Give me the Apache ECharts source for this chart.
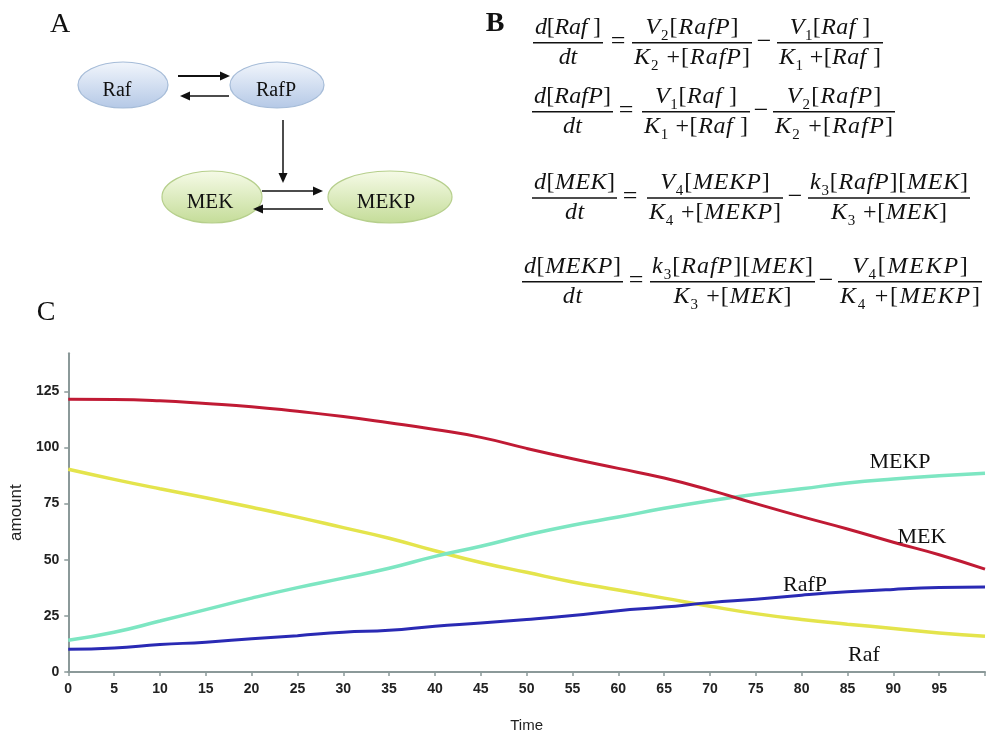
<!DOCTYPE html>
<html><head><meta charset="utf-8">
<script src="https://cdn.jsdelivr.net/npm/echarts@6/dist/echarts.min.js"></script>
<style>html,body{margin:0;padding:0;background:#fff}#c{width:986px;height:734px}</style>
</head><body><div id="c"></div>
<script>
// ---- data ----
const time = [0,5,10,15,20,25,30,35,40,45,50,55,60,65,70,75,80,85,90,95,100];
const mek  = [121.5,121.4,120.8,119.6,118.2,116.1,113.8,111,108,104.5,99.6,95,90.7,86.4,81,75,69.2,63.7,57.8,52.2,45.8];
const mekp = [14.1,17.7,22.7,27.8,32.9,37.6,41.8,46.2,51.5,56,61,65.4,69,72.9,76.3,79.2,81.6,84.2,86,87.4,88.5];
const raf  = [90.3,85.8,81.6,77.6,73.4,69,64.3,59.6,54,48.8,44.4,40.1,36.5,32.9,29.3,26,23.4,21.3,19.4,17.4,15.9];
const rafp = [10.1,10.7,12.2,13.3,14.8,16.2,17.7,18.6,20.4,21.8,23.4,25.2,27.3,28.9,30.9,32.4,34.2,35.7,36.8,37.6,37.9];
const yTicks = [0,25,50,75,100,125];
const xLabels = [0,5,10,15,20,25,30,35,40,45,50,55,60,65,70,75,80,85,90,95];
const seriesNames = ['Raf','MEKP','RafP','MEK'];
const nodeNames = ['Raf','RafP','MEK','MEKP'];
const equations = [
  ['d[Raf ]','dt','V_2[RafP]','K_2 +[RafP]','V_1[Raf ]','K_1 +[Raf ]'],
  ['d[RafP]','dt','V_1[Raf ]','K_1 +[Raf ]','V_2[RafP]','K_2 +[RafP]'],
  ['d[MEK]','dt','V_4[MEKP]','K_4 +[MEKP]','k_3[RafP][MEK]','K_3 +[MEK]'],
  ['d[MEKP]','dt','k_3[RafP][MEK]','K_3 +[MEK]','V_4[MEKP]','K_4 +[MEKP]']
];

const pairs = a => time.map((t,i)=>[t,a[i]]);
const SERIF = '"Liberation Serif","Times New Roman",serif';
const SANS = '"Liberation Sans",Arial,sans-serif';
const mctx = document.createElement('canvas').getContext('2d');
function tw(text,size,style){ mctx.font = style+' '+size+'px '+SERIF; return mctx.measureText(text).width; }

const graphics = [];
function txt(x,y,text,size,opts){
  opts = opts||{};
  graphics.push({type:'text',x:x,y:y,z:10,style:{text:text,fill:opts.fill||'#111',
    fontFamily:opts.family||SERIF,fontSize:size,fontStyle:opts.style||'normal',fontWeight:opts.weight||'normal',
    align:opts.align||'center',verticalAlign:'middle'}});
}
// panel letters
txt(60,25,'A',28); txt(495,24,'B',28,{weight:'bold'}); txt(46,313,'C',28);

// ---- diagram A ----
function ell(cx,cy,rx,ry,c1,c2,st){
  graphics.push({type:'ellipse',shape:{cx:cx,cy:cy,rx:rx,ry:ry},style:{
    fill:new echarts.graphic.LinearGradient(0,0,0,1,[{offset:0,color:c1},{offset:1,color:c2}]),
    stroke:st,lineWidth:1.2}});
}
ell(123,85,45,23,'#f2f6fc','#b4c8e6','#a6bcd8');
ell(277,85,47,23,'#f2f6fc','#b4c8e6','#a6bcd8');
ell(212,197,50,26,'#f6fbe8','#c4dc98','#b6cf8c');
ell(390,197,62,26,'#f6fbe8','#c4dc98','#b6cf8c');
txt(117,91,nodeNames[0],20); txt(276,91,nodeNames[1],20);
txt(210,202,nodeNames[2],21); txt(386,202,nodeNames[3],21);
function arrow(x1,y1,x2,y2,w){
  const a=Math.atan2(y2-y1,x2-x1), L=10, W=4.5;
  const bx=x2-L*Math.cos(a), by=y2-L*Math.sin(a), px=-Math.sin(a), py=Math.cos(a);
  graphics.push({type:'line',shape:{x1:x1,y1:y1,x2:bx,y2:by},style:{stroke:'#111',lineWidth:w}});
  graphics.push({type:'polygon',shape:{points:[[x2,y2],[bx+px*W,by+py*W],[bx-px*W,by-py*W]]},style:{fill:'#111'}});
}
arrow(178,76,230,76,2); arrow(229,96,180,96,1.5); arrow(283,120,283,183,1.5);
arrow(262,191,323,191,1.3); arrow(323,209,253,209,1.3);

// ---- equations B ----
const MAIN=24, SUB=15;
function toks(s){ const o=[]; for(let i=0;i<s.length;i++){ if(s[i]==='_'){o.push({ch:s[i+1],sub:true});i++;} else o.push({ch:s[i],sub:false}); } return o; }
function tokStyle(t){ if(t.sub) return 'normal'; return /[A-Za-z]/.test(t.ch)?'italic':'normal'; }
function tokW(t){ return tw(t.ch,t.sub?SUB:MAIN,tokStyle(t)); }
function natW(ts,k){ let w=0; ts.forEach((t,i)=>{w+=tokW(t)+(i<ts.length-1?k:0);}); return w; }
function drawStr(ts,cx,baseline,k){
  const W=natW(ts,k); let x=cx-W/2;
  ts.forEach(t=>{
    const w=tokW(t);
    if(t.ch!==' '){
      const size=t.sub?SUB:MAIN; const bl=t.sub?baseline+5:baseline;
      graphics.push({type:'text',x:x,y:bl-0.34*size,z:10,style:{text:t.ch,fill:'#111',fontFamily:SERIF,
        fontSize:size,fontStyle:tokStyle(t),align:'left',verticalAlign:'middle'}});
    }
    x+=w+k;
  });
}
function frac(x1,x2,yb,num,den){
  graphics.push({type:'line',shape:{x1:x1,y1:yb,x2:x2,y2:yb},style:{stroke:'#111',lineWidth:1.4}});
  const a=toks(num), b=toks(den);
  const wide = natW(a,0)>natW(b,0)?a:b;
  let k=((x2-x1-4)-natW(wide,0))/(wide.length-1); k=Math.max(-0.5,Math.min(2,k));
  drawStr(a,(x1+x2)/2,yb-7,k); drawStr(b,(x1+x2)/2,yb+23,k);
}
const eqLayout = [
  {y:42.7, f:[[533,603],[632,752],[777,883]], eq:618, mi:764},
  {y:111.7,f:[[532,613],[642,750],[773,895]], eq:626, mi:761},
  {y:198,  f:[[532,617],[647,783],[808,970]], eq:630, mi:795},
  {y:281.7,f:[[522,623],[650,815],[838,982]], eq:636, mi:826}
];
eqLayout.forEach((L,i)=>{
  const e=equations[i];
  for(let j=0;j<3;j++) frac(L.f[j][0],L.f[j][1],L.y,e[2*j],e[2*j+1]);
  txt(L.eq,L.y-1,'=',26); txt(L.mi,L.y-1,'\u2212',26);
});

// series name labels
txt(900,462,seriesNames[1],22); txt(922,537,seriesNames[3],22);
txt(805,585,seriesNames[2],22); txt(864,655,seriesNames[0],22);

const axisCol = '#8b9999';
const chart = echarts.init(document.getElementById('c'),null,{renderer:'canvas'});
chart.setOption({
  animation:false,
  backgroundColor:'#fff',
  grid:{left:65,right:1,top:353.2,bottom:52.5,containLabel:false},
  xAxis:{type:'value',min:0,max:100,interval:5,
    name:'Time',nameLocation:'middle',nameGap:46,
    nameTextStyle:{fontFamily:SANS,fontSize:15,color:'#222'},
    axisLine:{lineStyle:{color:axisCol,width:2}},
    axisTick:{show:true,length:4,lineStyle:{color:axisCol,width:1.5}},
    axisLabel:{customValues:xLabels,margin:10,fontFamily:SANS,fontSize:14,fontWeight:'bold',color:'#222'},
    splitLine:{show:false}},
  yAxis:{type:'value',min:0,max:142,
    name:'amount',nameLocation:'middle',nameGap:40,nameRotate:90,
    nameTextStyle:{fontFamily:SANS,fontSize:17,color:'#222'},
    axisLine:{show:true,lineStyle:{color:axisCol,width:2}},
    axisTick:{show:true,customValues:yTicks,length:4,lineStyle:{color:axisCol,width:1.5}},
    axisLabel:{customValues:yTicks,margin:9,fontFamily:SANS,fontSize:14,fontWeight:'bold',color:'#222'},
    splitLine:{show:false}},
  series:[
    {name:'Raf',type:'line',data:pairs(raf),smooth:true,symbol:'none',lineStyle:{color:'#e4e44c',width:3.5}},
    {name:'MEKP',type:'line',data:pairs(mekp),smooth:true,symbol:'none',lineStyle:{color:'#7de6c2',width:3.5}},
    {name:'RafP',type:'line',data:pairs(rafp),smooth:true,symbol:'none',lineStyle:{color:'#2a2ab4',width:3}},
    {name:'MEK',type:'line',data:pairs(mek),smooth:true,symbol:'none',lineStyle:{color:'#c01a34',width:3}}
  ],
  graphic:graphics
});
</script></body></html>
